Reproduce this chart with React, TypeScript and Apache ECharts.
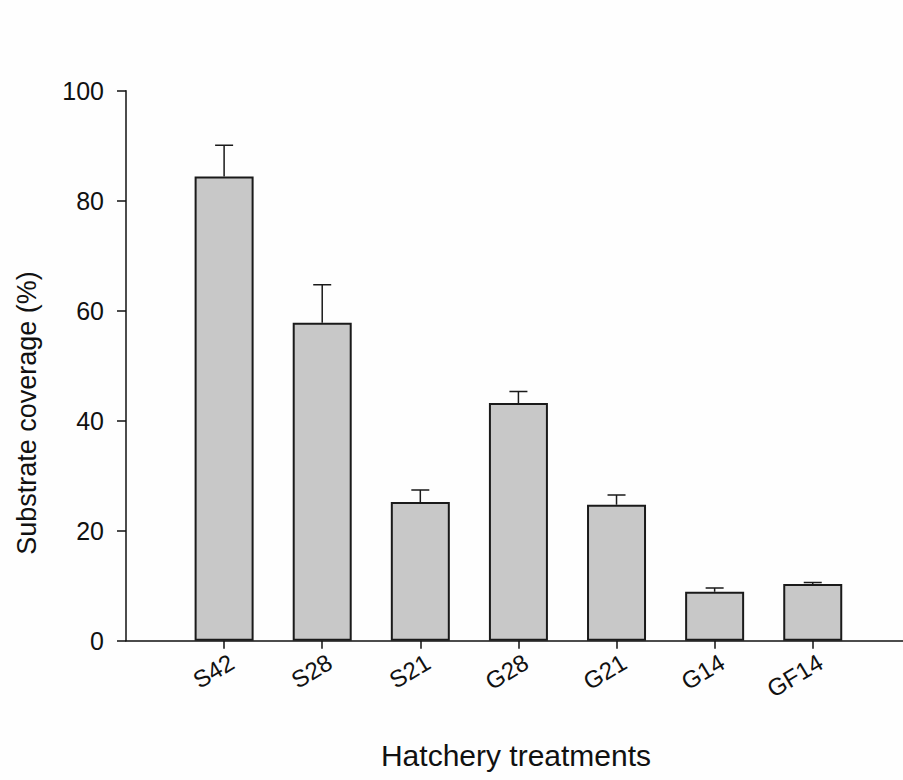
import React, { useEffect, useRef } from "react";
import * as echarts from "echarts";

const categories = ["S42", "S28", "S21", "G28", "G21", "G14", "GF14"];
const means = [84.4, 57.8, 25.2, 43.2, 24.7, 8.9, 10.3];
const errors = [5.7, 6.9, 2.2, 2.1, 1.8, 0.7, 0.3];
const yTicks = [0, 20, 40, 60, 80, 100];

const FONT = "'Liberation Sans', Arial, Helvetica, sans-serif";

export default function App() {
  const ref = useRef<HTMLDivElement>(null);
  useEffect(() => {
    document.body.style.margin = "0";
    const chart = echarts.init(ref.current!, null, { renderer: "svg" });
    const idx = categories.map((_, i) => i);
    chart.setOption({
      animation: false,
      backgroundColor: "#fefefe",
      grid: { left: 126, right: 0, top: 90.7, bottom: 780 - 640.7, containLabel: false },
      xAxis: {
        type: "value",
        min: -1,
        max: 6.92,
        interval: 1,
        splitLine: { show: false },
        axisLine: { show: true, onZero: false, lineStyle: { color: "#111", width: 1.5 } },
        axisTick: { show: true, customValues: idx, length: 8, lineStyle: { color: "#111", width: 1.5 } },
        axisLabel: {
          customValues: idx,
          formatter: (v: number) => categories[Math.round(v)] ?? "",
          rotate: 31,
          margin: 24,
          padding: [0, -9, 0, 0],
          fontSize: 24,
          color: "#111",
          fontFamily: FONT,
        },
      },
      yAxis: {
        type: "value",
        min: 0,
        max: 100,
        interval: 20,
        splitLine: { show: false },
        axisLine: { show: true, onZero: false, lineStyle: { color: "#111", width: 1.5 } },
        axisTick: { show: true, length: 9, lineStyle: { color: "#111", width: 1.5 } },
        axisLabel: {
          customValues: yTicks,
          margin: 22,
          fontSize: 25,
          color: "#111",
          fontFamily: FONT,
        },
      },
      graphic: [
        {
          type: "text",
          x: 27,
          y: 413,
          rotation: Math.PI / 2,
          style: {
            text: "Substrate coverage (%)",
            font: `27px ${FONT}`,
            fill: "#111",
            align: "center",
            verticalAlign: "middle",
          },
        },
        {
          type: "text",
          x: 516,
          y: 755,
          style: {
            text: "Hatchery treatments",
            font: `30px ${FONT}`,
            fill: "#111",
            align: "center",
            verticalAlign: "middle",
          },
        },
      ],
      series: [
        {
          type: "bar",
          data: means.map((v, i) => [i, v]),
          barWidth: 59,
          itemStyle: { color: "#c8c8c8", borderColor: "#1a1a1a", borderWidth: 2 },
          z: 2,
        },
        {
          type: "custom",
          data: means.map((v, i) => [i, v, errors[i]]),
          encode: { x: 0, y: 1 },
          z: 3,
          renderItem: (params: any, api: any) => {
            const x = api.value(0);
            const y = api.value(1);
            const e = api.value(2);
            const base = api.coord([x, y]);
            const top = api.coord([x, y + e]);
            const half = 9;
            return {
              type: "polyline",
              shape: {
                points: [
                  [base[0], base[1]],
                  [top[0], top[1]],
                  [top[0] - half, top[1]],
                  [top[0] + half, top[1]],
                ],
              },
              style: { stroke: "#1a1a1a", lineWidth: 1.5, fill: "none" },
            };
          },
        },
      ],
    });
    return () => chart.dispose();
  }, []);
  return <div ref={ref} style={{ width: 903, height: 780 }} />;
}
